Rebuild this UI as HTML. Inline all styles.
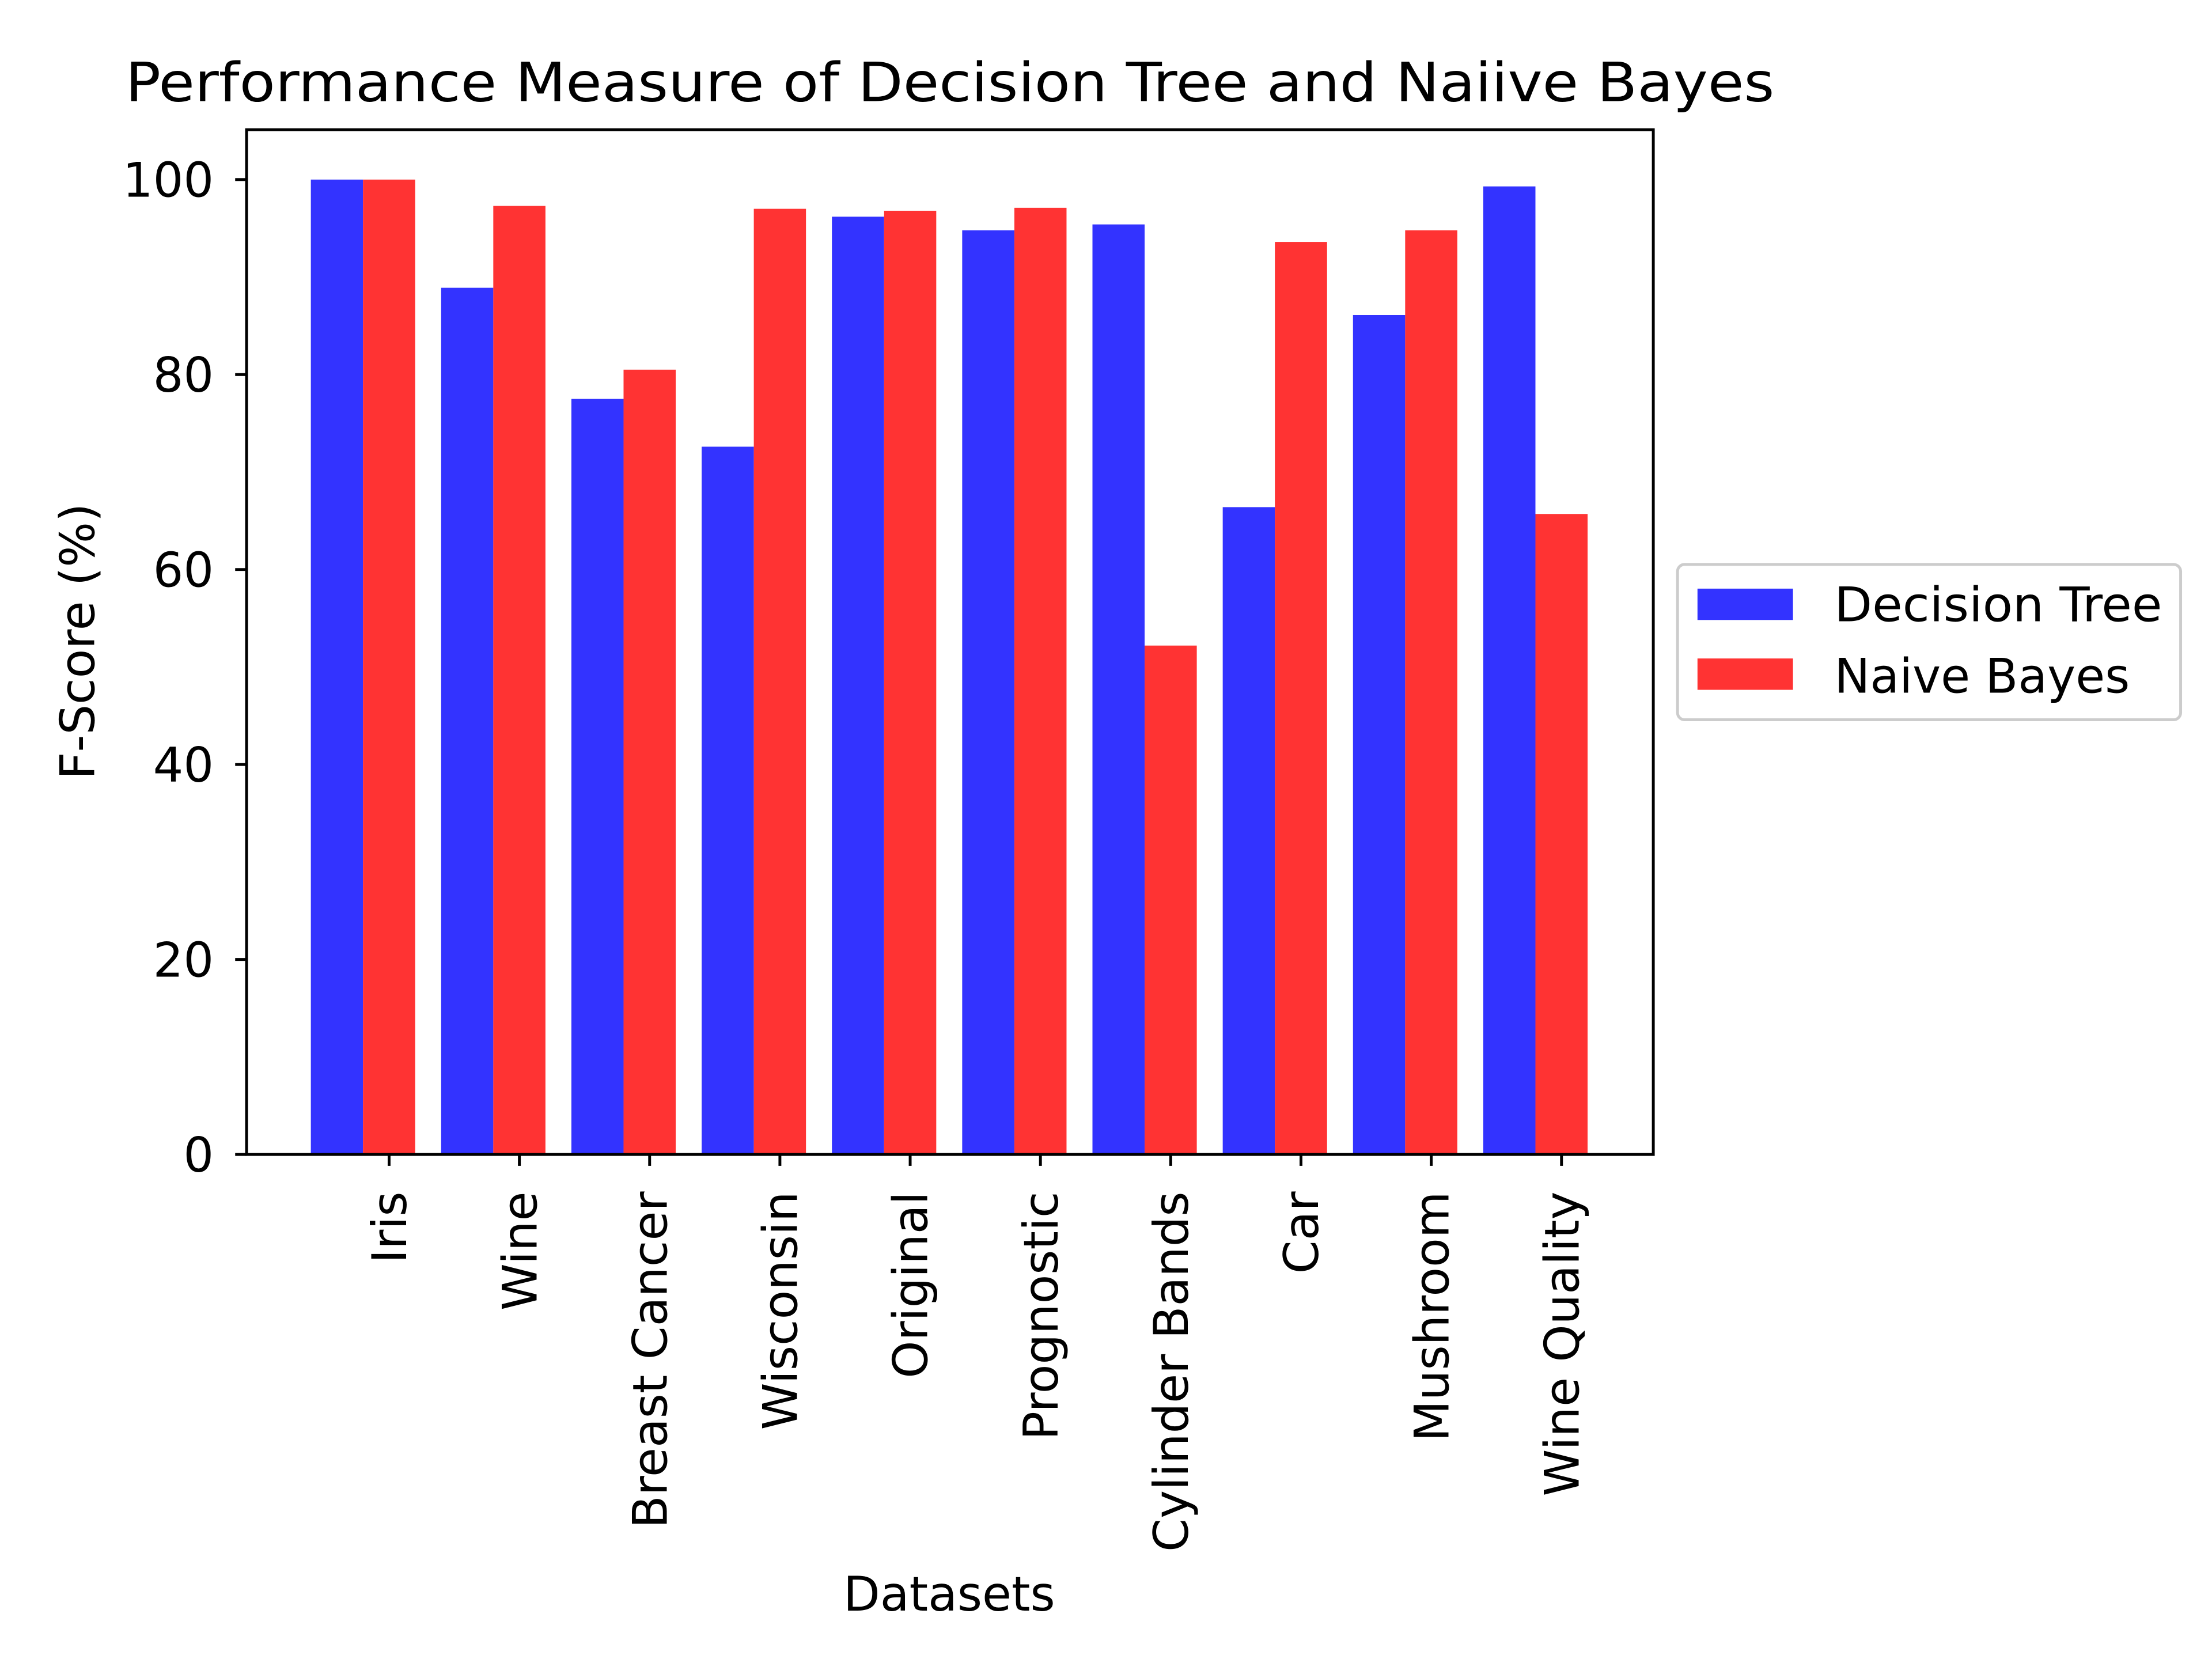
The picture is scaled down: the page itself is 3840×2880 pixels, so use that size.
<!DOCTYPE html>
<html><head><meta charset="utf-8"><style>html,body{margin:0;padding:0;background:#fff}svg{display:block}text{font-family:"DejaVu Sans","Liberation Sans",sans-serif;fill:#000}</style></head>
<body>
<svg id="chart" width="3840" height="2880" viewBox="0 0 1552 1164" xmlns="http://www.w3.org/2000/svg">
<rect width="1552" height="1164" fill="#fff"/>
<text x="88" y="71" font-size="38" textLength="1157" lengthAdjust="spacingAndGlyphs">Performance Measure of Decision Tree and Naiive Bayes</text>
<g id="plot"></g>
<rect x="173" y="91" width="987" height="719" fill="none" stroke="#000" stroke-width="2"/>
<text x="666" y="1130" font-size="33.5" text-anchor="middle">Datasets</text>
<text transform="translate(66,450) rotate(-90)" font-size="33.5" text-anchor="middle">F-Score (%)</text>
<g>
<rect x="1177" y="396" width="353" height="109" rx="5" fill="#fff" stroke="#ccc" stroke-width="2"/>
<rect x="1191" y="413" width="67" height="22" fill="#3333ff"/>
<text x="1287" y="436" font-size="33.5" textLength="230" lengthAdjust="spacingAndGlyphs">Decision Tree</text>
<rect x="1191" y="462" width="67" height="22" fill="#ff3333"/>
<text x="1287" y="486" font-size="33.5">Naive Bayes</text>
</g>
</svg>
<script>
const categories=["Iris","Wine","Breast Cancer","Wisconsin","Original","Prognostic","Cylinder Bands","Car","Mushroom","Wine Quality"];
const decisionTree=[100,88.9,77.5,72.6,96.2,94.8,95.4,66.4,86.1,99.3];
const naiveBayes=[100,97.3,80.5,97.0,96.8,97.1,52.2,93.6,94.8,65.7];
const yTicks=[0,20,40,60,80,100];
const NS="http://www.w3.org/2000/svg";
const g=document.getElementById('plot');
const y=v=>810-v*6.84;
const xc=i=>273+i*91.4;
const w=36.6;
function mk(t,a){const e=document.createElementNS(NS,t);for(const k in a)e.setAttribute(k,a[k]);g.appendChild(e);return e;}
yTicks.forEach(v=>{
 const l=mk('line',{x1:165,x2:173,y1:y(v),y2:y(v),stroke:'#000','stroke-width':2});
 
 
 const t=mk('text',{x:150,y:y(v)+12,'font-size':33.5,'text-anchor':'end'});t.textContent=v;
 
 
});
categories.forEach((c,i)=>{
 const b=mk('rect',{x:xc(i)-1.5*w,y:y(decisionTree[i]),width:w,height:decisionTree[i]*6.84,fill:'#3333ff'});
 
 
 const r=mk('rect',{x:xc(i)-0.5*w,y:y(naiveBayes[i]),width:w,height:naiveBayes[i]*6.84,fill:'#ff3333'});
 
 
 const l=mk('line',{x1:xc(i),x2:xc(i),y1:810,y2:818,stroke:'#000','stroke-width':2});
 
 
 const t=mk('text',{transform:`translate(${xc(i)+12},836) rotate(-90)`,'font-size':33.5,'text-anchor':'end'});t.textContent=c;
 
 
});
</script>
</body></html>
